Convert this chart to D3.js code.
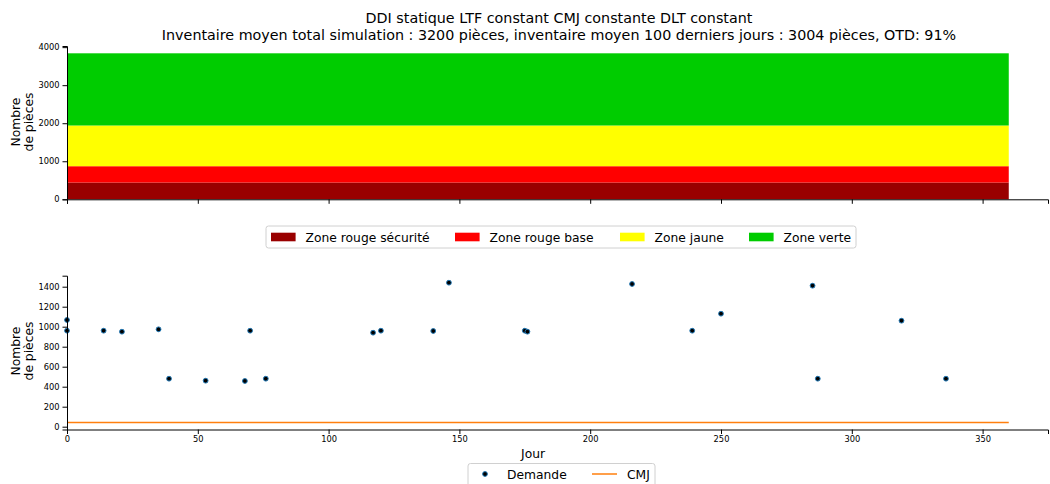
<!DOCTYPE html>
<html><head><meta charset="utf-8">
<script src="https://cdn.jsdelivr.net/npm/d3@7"></script>
<style>body{margin:0;background:#fff}svg{font-family:"DejaVu Sans",sans-serif}</style>
</head><body><svg id="c" width="1050" height="484"></svg>
<script>
const zoneNames = ["Zone rouge sécurité","Zone rouge base","Zone jaune","Zone verte"];
const zoneColors = ["#990000","#ff0000","#ffff00","#00cc00"];
const zoneValues = [440, 430, 1070, 1898];
const dayStart = 0, dayEnd = 360;
const demandDays = [0,0,14,21,35,39,53,68,70,76,117,120,140,146,175,176,216,239,250,285,287,319,336];
const demandValues = [1067,960,960,950,974,480,460,457,960,480,940,960,957,1440,960,950,1427,960,1130,1410,480,1060,480];
const cmjValue = 42;
const xTicks = [0,50,100,150,200,250,300,350];
const yTicksTop = [0,1000,2000,3000,4000];
const yTicksBot = [0,200,400,600,800,1000,1200,1400];
const title1 = "DDI statique LTF constant CMJ constante DLT constant";
const title2 = "Inventaire moyen total simulation : 3200 pièces, inventaire moyen 100 derniers jours : 3004 pièces, OTD: 91%";

const svg = d3.select("#c");
const x = d3.scaleLinear().domain([0,375]).range([67,1048]);
const yT = d3.scaleLinear().domain([0,4030]).range([199.3,46]);
const yB = d3.scaleLinear().domain([-28,1510]).range([429.5,275.7]);
const FS = 12.3;

// title
svg.append("text").attr("x",559).attr("y",23).attr("text-anchor","middle").attr("font-size",14.3).text(title1);
svg.append("text").attr("x",559).attr("y",40).attr("text-anchor","middle").attr("font-size",14.3).text(title2);

// top stacked zones
let cum = 0;
const stacks = zoneValues.map((v,i)=>{const s={y0:cum,y1:cum+v,c:zoneColors[i]};cum+=v;return s;});
svg.append("g").selectAll("rect").data(stacks).join("rect")
  .attr("x",x(dayStart)).attr("width",x(dayEnd)-x(dayStart))
  .attr("y",d=>yT(d.y1)).attr("height",d=>yT(d.y0)-yT(d.y1)).attr("fill",d=>d.c);

function styleAxis(g){
  g.selectAll("text").attr("font-size",8.3).attr("fill","#000").attr("font-family","DejaVu Sans");
  g.selectAll("line").attr("stroke","#000");
  g.select(".domain").attr("stroke","#000").attr("stroke-width",1);
}
svg.append("g").attr("transform","translate(0,199.3)")
  .call(d3.axisBottom(x).tickValues(xTicks).tickFormat("").tickSizeOuter(0).tickSize(4.5)).call(styleAxis);
svg.append("g").attr("transform","translate(67,0)")
  .call(d3.axisLeft(yT).tickValues(yTicksTop).tickFormat(d3.format("d")).tickSizeOuter(0).tickSize(4.5).tickPadding(3)).call(styleAxis);

function ylabel(cy){
  const t = svg.append("text").attr("transform",`translate(0,${cy}) rotate(-90)`).attr("text-anchor","middle").attr("font-size",FS);
  t.append("tspan").attr("x",0).attr("y",19.5).text("Nombre");
  t.append("tspan").attr("x",0).attr("y",33).text("de pièces");
}
ylabel(122);
ylabel(351);

// top legend
const lg = svg.append("g");
lg.append("rect").attr("x",266).attr("y",226).attr("width",590).attr("height",22).attr("rx",2.5)
  .attr("fill","#fff").attr("stroke","#d0d0d0");
const lx = [271,455,620,749];
zoneNames.forEach((n,i)=>{
  lg.append("rect").attr("x",lx[i]).attr("y",232.7).attr("width",24.6).attr("height",8.6).attr("fill",zoneColors[i]);
  lg.append("text").attr("x",lx[i]+34.6).attr("y",241.5).attr("font-size",FS).text(n);
});

// bottom chart
svg.append("line").attr("x1",x(dayStart)).attr("x2",x(dayEnd)).attr("y1",yB(cmjValue)).attr("y2",yB(cmjValue))
  .attr("stroke","#ff7f0e").attr("stroke-width",1.5);
svg.append("g").selectAll("circle").data(demandDays.map((d,i)=>[d,demandValues[i]])).join("circle")
  .attr("cx",d=>x(d[0])).attr("cy",d=>yB(d[1])).attr("r",2.4)
  .attr("fill","#000").attr("stroke","#1f77b4").attr("stroke-width",1);

svg.append("g").attr("transform","translate(0,429.5)")
  .call(d3.axisBottom(x).tickValues(xTicks).tickFormat(d3.format("d")).tickSizeOuter(0).tickSize(4.5).tickPadding(2)).call(styleAxis);
svg.append("g").attr("transform","translate(67,0)")
  .call(d3.axisLeft(yB).tickValues(yTicksBot).tickFormat(d3.format("d")).tickSizeOuter(0).tickSize(4.5).tickPadding(3)).call(styleAxis);
svg.append("text").attr("x",533).attr("y",458).attr("text-anchor","middle").attr("font-size",FS).text("Jour");

// bottom legend
const lb = svg.append("g");
lb.append("rect").attr("x",468).attr("y",463.5).attr("width",187).attr("height",30).attr("rx",2.5)
  .attr("fill","#fff").attr("stroke","#d0d0d0");
lb.append("circle").attr("cx",485).attr("cy",474).attr("r",2.4).attr("fill","#000").attr("stroke","#1f77b4").attr("stroke-width",1);
lb.append("text").attr("x",507).attr("y",478.5).attr("font-size",FS).text("Demande");
lb.append("line").attr("x1",592).attr("x2",617).attr("y1",474).attr("y2",474).attr("stroke","#ff7f0e").attr("stroke-width",1.5);
lb.append("text").attr("x",627).attr("y",478.5).attr("font-size",FS).text("CMJ");
</script></body></html>
